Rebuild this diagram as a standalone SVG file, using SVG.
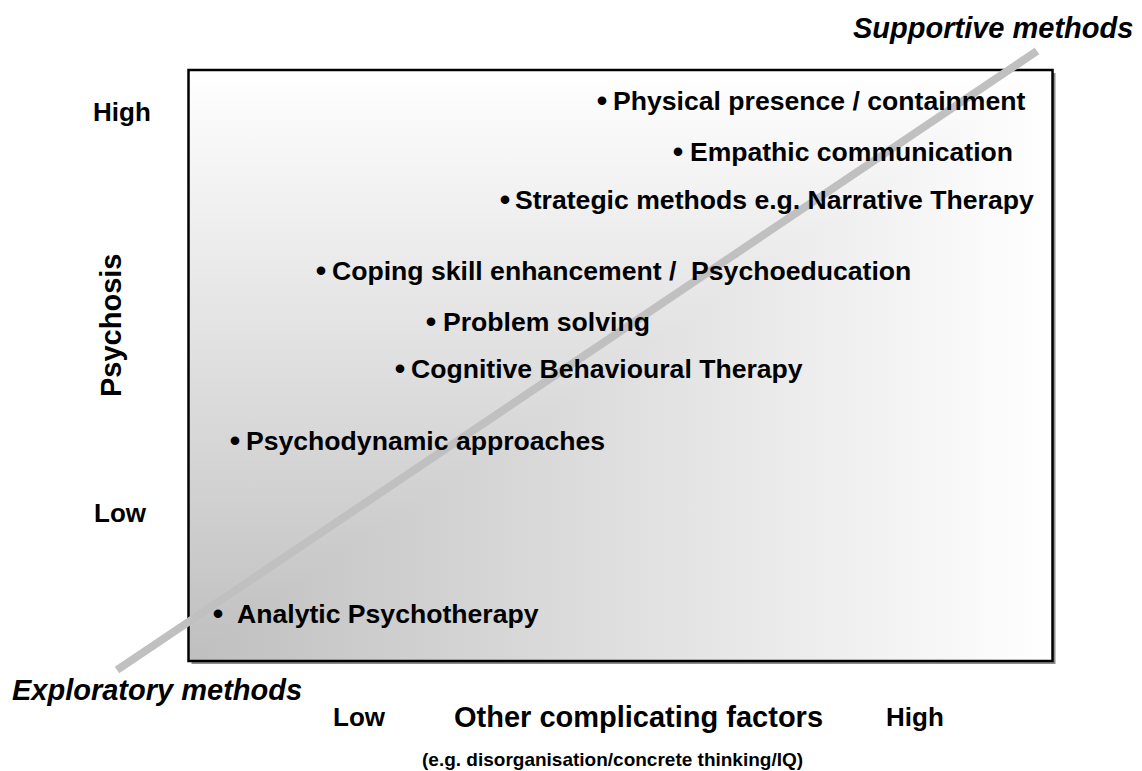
<svg xmlns="http://www.w3.org/2000/svg" width="1142" height="771" viewBox="0 0 1142 771">
<style>
text{font-family:"Liberation Sans",Arial,sans-serif;font-weight:bold;fill:#000;white-space:pre}
.item{font-size:26.6px}
.bul{font-size:30px}
.ax{font-size:26px}
.big{font-size:29px}
.it{font-size:29px;font-style:italic}
.sub{font-size:19px}
</style>
<defs>
<linearGradient id="gx" x1="0" y1="0" x2="1" y2="0">
<stop offset="0" stop-color="#bfbfbf"/>
<stop offset="1" stop-color="#ffffff"/>
</linearGradient>
<linearGradient id="gy" x1="0" y1="1" x2="0" y2="0">
<stop offset="0" stop-color="#bfbfbf"/>
<stop offset="1" stop-color="#ffffff"/>
</linearGradient>
</defs>
<g id="chart-box">
<rect x="191.5" y="73" width="864" height="591" fill="#8c8c8c"/>
<g style="isolation:isolate">
<rect x="188.5" y="70" width="864" height="591" fill="url(#gx)"/>
<rect x="188.5" y="70" width="864" height="591" fill="url(#gy)" style="mix-blend-mode:lighten"/>
</g>
<rect x="188.5" y="70" width="864" height="591" fill="none" stroke="#000" stroke-width="2.5"/>
</g>
<g id="connectors">
<line x1="117" y1="670" x2="1037" y2="51" stroke="#c0c0c0" stroke-width="8"/>
</g>
<g id="n1"><text class="bul" x="596.7" y="110.6">•</text><text class="item" x="613" y="109.5">Physical presence / containment</text></g>
<g id="n2"><text class="bul" x="672.7" y="161.6">•</text><text class="item" x="690" y="160.5" textLength="323" lengthAdjust="spacingAndGlyphs">Empathic communication</text></g>
<g id="n3"><text class="bul" x="499.7" y="209.6">•</text><text class="item" x="515" y="208.5">Strategic methods e.g. Narrative Therapy</text></g>
<g id="n4"><text class="bul" x="315.7" y="280.6">•</text><text class="item" x="332" y="279.5">Coping skill enhancement /  Psychoeducation</text></g>
<g id="n5"><text class="bul" x="425.7" y="331.6">•</text><text class="item" x="443" y="330.5">Problem solving</text></g>
<g id="n6"><text class="bul" x="394.7" y="378.6">•</text><text class="item" x="411" y="377.5">Cognitive Behavioural Therapy</text></g>
<g id="n7"><text class="bul" x="229.7" y="450.6">•</text><text class="item" x="246" y="449.5">Psychodynamic approaches</text></g>
<g id="n8"><text class="bul" x="212.7" y="623.6">•</text><text class="item" x="237" y="622.5">Analytic Psychotherapy</text></g>
<g id="labels">
<text class="ax" x="93" y="121">High</text>
<text class="ax" x="94" y="522">Low</text>
<text class="big" transform="translate(121,397) rotate(-90)">Psychosis</text>
<text class="it" x="853" y="38">Supportive methods</text>
<text class="it" x="12" y="700">Exploratory methods</text>
<text class="ax" x="333" y="726">Low</text>
<text class="big" x="454" y="727">Other complicating factors</text>
<text class="ax" x="886" y="726">High</text>
<text class="sub" x="422" y="766">(e.g. disorganisation/concrete thinking/IQ)</text>
</g>
</svg>
